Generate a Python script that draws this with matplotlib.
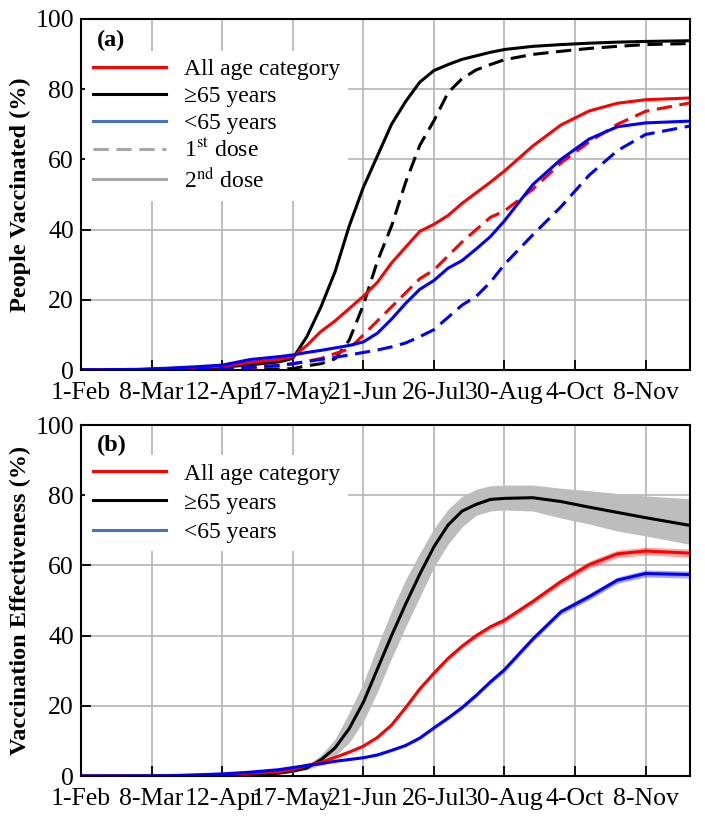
import numpy as np
import matplotlib
matplotlib.use("Agg")
import matplotlib.pyplot as plt
from matplotlib.lines import Line2D

plt.rcParams["font.family"] = ["Liberation Serif", "DejaVu Serif"]
plt.rcParams["mathtext.fontset"] = "stix"
plt.rcParams["font.size"] = 17.5

# ----- data (days since 1-Feb-2021) -----
days = [0, 28, 42, 56, 70, 84, 98, 105, 112, 119, 126, 133, 140, 147, 154,
        161, 168, 175, 182, 189, 196, 203, 210, 224, 238, 252, 266, 280, 302]

tick_days = [0, 35, 70, 105, 140, 175, 210, 245, 280]
tick_labels = ["1-Feb", "8-Mar", "12-Apr", "17-May", "21-Jun", "26-Jul",
               "30-Aug", "4-Oct", "8-Nov"]

# (a) people vaccinated (%)
old_2nd = [0, 0.1, 0.3, 0.5, 0.8, 1.5, 2.3, 3.3, 9.5, 18, 28, 41, 52, 61, 70,
           76.5, 82, 85.3, 87, 88.5, 89.5, 90.5, 91.3, 92.2, 92.7, 93.1, 93.4,
           93.6, 93.8]
old_1st = [0, 0, 0, 0.05, 0.1, 0.2, 0.3, 0.4, 1.2, 1.8, 3.2, 8.5, 18.5, 31,
           41, 53.5, 64, 71, 79, 83, 85.5, 87, 88.4, 89.9, 90.8, 91.6, 92.2,
           92.7, 93]
all_2nd = [0, 0.1, 0.3, 0.6, 1.0, 2.2, 3.0, 3.8, 7, 11, 14, 17.5, 21, 25,
           30.5, 35, 39.5, 41.5, 44, 47.5, 50.5, 53.5, 56.7, 63.8, 69.8, 73.8,
           76, 77, 77.5]
all_1st = [0, 0, 0.1, 0.2, 0.4, 0.7, 1.2, 1.8, 2.5, 3.3, 4.7, 6, 10, 14, 18,
           22, 26, 28.5, 32.5, 36.5, 40, 43.5, 45.3, 51.5, 59, 65, 70, 73.7,
           76.1]
young_2nd = [0, 0.2, 0.5, 0.9, 1.4, 3.0, 3.8, 4.3, 5.0, 5.6, 6.3, 7, 8, 10.5,
             14.5, 19, 23, 25.5, 29, 31.2, 34.5, 38, 42.5, 52.8, 60, 65.8,
             69.3, 70.4, 70.9]
young_1st = [0, 0, 0.1, 0.2, 0.4, 0.8, 1.3, 1.8, 2.4, 3.0, 3.6, 4.3, 5, 5.7,
             6.6, 7.7, 9.5, 11.5, 15, 18.5, 21, 25, 30.1, 38.5, 46.5, 55.5,
             62.5, 67.1, 69.5]

# (b) vaccination effectiveness (%)
ve_old = [0, 0, 0, 0.05, 0.1, 0.3, 0.8, 1.4, 2.3, 4.6, 8, 13.5, 21, 30.5, 40,
          49, 57.5, 65.3, 71.5, 75.5, 77.4, 78.8, 79.1, 79.3, 78.2, 76.6,
          75.1, 73.6, 71.4]
ve_old_hi = [0, 0, 0, 0.1, 0.2, 0.4, 1.0, 1.8, 3.0, 6, 10.5, 18, 26.5, 37, 47,
             56, 63.5, 70.5, 76, 79.7, 81.7, 82.7, 82.9, 82.9, 82, 81.3, 80.5,
             79.8, 79]
ve_old_lo = [0, 0, 0, 0, 0.05, 0.2, 0.6, 1.0, 1.7, 3.3, 5.8, 9.5, 15.5, 24,
             33.5, 42.5, 51, 59.5, 66, 71, 74.3, 75.5, 75.8, 75.5, 73.5, 71.8,
             69.8, 68.4, 66]
ve_all = [0, 0, 0.05, 0.2, 0.4, 0.8, 1.2, 1.9, 3.0, 3.9, 5.3, 6.8, 8.5, 11,
          14.5, 19.5, 24.8, 29.3, 33.5, 37, 40, 42.5, 44.4, 49.7, 55.4, 60.2,
          63.3, 64.1, 63.5]
ve_all_err = [0, 0, 0, 0, 0, 0.1, 0.1, 0.1, 0.2, 0.2, 0.2, 0.3, 0.3, 0.3, 0.4,
              0.4, 0.5, 0.5, 0.6, 0.6, 0.7, 0.7, 0.8, 0.8, 0.9, 1.0, 1.1, 1.1,
              1.2]
ve_young = [0, 0.05, 0.1, 0.3, 0.6, 1.1, 1.8, 2.4, 3.0, 3.5, 4.2, 4.7, 5.2,
            6.0, 7.3, 8.7, 10.8, 13.7, 16.5, 19.5, 23, 26.8, 30.3, 39, 46.8,
            51.1, 55.8, 57.7, 57.4]
ve_young_err = [0, 0, 0, 0, 0, 0.1, 0.1, 0.1, 0.1, 0.2, 0.2, 0.2, 0.2, 0.3,
                0.3, 0.3, 0.4, 0.4, 0.5, 0.5, 0.6, 0.6, 0.7, 0.7, 0.8, 0.9,
                0.9, 1.0, 1.0]

days = np.array(days)
RED, BLACK, BLUE = "#ff0000", "#000000", "#0000ff"
LEG_BLUE, GREY = "#4472c4", "#a6a6a6"
LW = 2.2
DASH = (0, (5, 2.5))

fig = plt.figure(figsize=(7.05, 8.21), dpi=100)
ax1 = fig.add_axes([0.1149, 0.5493, 0.8638, 0.4276])
ax2 = fig.add_axes([0.1149, 0.0548, 0.8638, 0.4275])

LEG_KW = dict(loc="upper left", frameon=True, fancybox=False,
              edgecolor="none", framealpha=1, borderpad=0.35,
              handlelength=3.1, handletextpad=0.75,
              borderaxespad=0, fontsize=17)


def style_axis(ax, ylabel):
    ax.set_xlim(0, 302)
    ax.set_ylim(0, 100)
    ax.set_xticks(tick_days)
    ax.set_xticklabels(tick_labels)
    ax.set_yticks([0, 20, 40, 60, 80, 100])
    ax.tick_params(direction="in", length=7.5, width=1.3, labelsize=18.5)
    ax.tick_params(axis="x", pad=8.5)
    ax.tick_params(axis="y", pad=5)
    ax.grid(True, color="#b4b4b4", linewidth=1.2)
    ax.set_axisbelow(True)
    for sp in ax.spines.values():
        sp.set_linewidth(1.5)
    ax.set_ylabel(ylabel, fontweight="bold", labelpad=3)


# ----- (a) -----
ax1.plot(days, old_2nd, color=BLACK, lw=LW)
ax1.plot(days, old_1st, color=BLACK, lw=LW, ls=DASH)
ax1.plot(days, all_2nd, color=RED, lw=LW)
ax1.plot(days, all_1st, color=RED, lw=LW, ls=DASH)
ax1.plot(days, young_2nd, color=BLUE, lw=LW)
ax1.plot(days, young_1st, color=BLUE, lw=LW, ls=DASH)
style_axis(ax1, "People Vaccinated (%)")

handles_a = [Line2D([], [], color=RED, lw=LW),
             Line2D([], [], color=BLACK, lw=LW),
             Line2D([], [], color=LEG_BLUE, lw=LW),
             Line2D([], [], color=GREY, lw=LW, ls=DASH),
             Line2D([], [], color=GREY, lw=LW)]
labels_a = ["All age category", "\u226565 years", "<65 years",
            "1$^{\\rm st}$ dose", "2$^{\\rm nd}$ dose"]
ax1.legend(handles_a, labels_a, bbox_to_anchor=(0.006, 0.91),
           labelspacing=0.22, **LEG_KW)
ax1.text(0.026, 0.94, "(a)", transform=ax1.transAxes, fontweight="bold",
         va="center", ha="left", zorder=10)

# ----- (b) -----
ax2.fill_between(days, ve_old_lo, ve_old_hi, color="#bdbdbd", lw=0)
ax2.fill_between(days, np.array(ve_all) - np.array(ve_all_err),
                 np.array(ve_all) + np.array(ve_all_err),
                 color=RED, alpha=0.35, lw=0)
ax2.fill_between(days, np.array(ve_young) - np.array(ve_young_err),
                 np.array(ve_young) + np.array(ve_young_err),
                 color=BLUE, alpha=0.35, lw=0)
ax2.plot(days, ve_old, color=BLACK, lw=LW)
ax2.plot(days, ve_all, color=RED, lw=LW)
ax2.plot(days, ve_young, color=BLUE, lw=LW)
style_axis(ax2, "Vaccination Effectiveness (%)")

handles_b = [Line2D([], [], color=RED, lw=LW),
             Line2D([], [], color=BLACK, lw=LW),
             Line2D([], [], color=LEG_BLUE, lw=LW)]
labels_b = ["All age category", "\u226565 years", "<65 years"]
ax2.legend(handles_b, labels_b, bbox_to_anchor=(0.006, 0.915),
           labelspacing=0.32, **LEG_KW)
ax2.text(0.026, 0.943, "(b)", transform=ax2.transAxes, fontweight="bold",
         va="center", ha="left", zorder=10)

fig.savefig("out.png", dpi=100)
